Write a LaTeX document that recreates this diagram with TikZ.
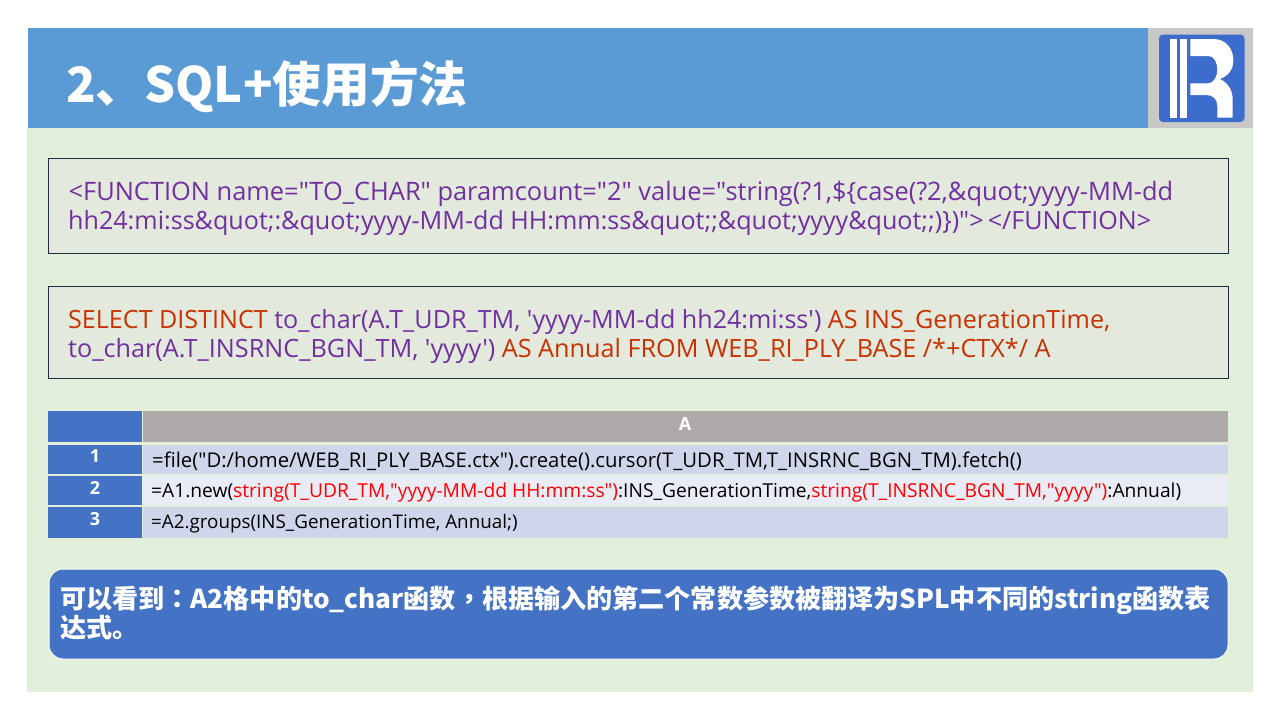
\documentclass[tikz,border=0pt]{standalone}
\usepackage{fontspec}
\newfontfamily\lat{Open Sans}
\newfontfamily\cjk{Noto Sans CJK SC}
\newfontfamily\cjktc{Noto Sans CJK TC}
\definecolor{bannerblue}{HTML}{5B9BD5}
\definecolor{logogrey}{HTML}{C8C8C8}
\definecolor{logoblue}{HTML}{3C6DCC}
\definecolor{panelgreen}{HTML}{E2EFDA}
\definecolor{codefill}{HTML}{E3E9DD}
\definecolor{codeline}{HTML}{1F2A44}
\definecolor{splpurple}{HTML}{7030A0}
\definecolor{sqlred}{HTML}{C83200}
\definecolor{cellblue}{HTML}{4472C4}
\definecolor{cellgrey}{HTML}{AEAAAA}
\definecolor{rowdark}{HTML}{CFD5EA}
\definecolor{rowlight}{HTML}{E9EBF5}
\begin{document}
\begin{tikzpicture}[x=1pt,y=-1pt]
\tikzset{block/.style n args={5}{anchor=north west,inner sep=0pt,outer sep=0pt,fill=#5,
  minimum width=(#3-#1)*1pt,minimum height=(#4-#2)*1pt},
  code box/.style={draw=codeline,line width=0.8pt,fill=codefill,anchor=north west,inner sep=0pt,
  minimum width=1180pt,minimum height=#1},
  code text/.style={anchor=west,inner sep=0pt,font=\lat\fontsize{#1}{29pt}\selectfont,text=splpurple,
  align=left},
  row num/.style={anchor=center,inner sep=0pt,text=white,font=\lat\bfseries\fontsize{18pt}{20pt}\selectfont},
  row text/.style={anchor=west,inner sep=0pt,text=black,font=\lat\fontsize{#1}{22pt}\selectfont}}

\useasboundingbox (0,0) rectangle (1280,720);
\fill[white] (0,0) rectangle (1280,720);
\node[block={27}{128}{1253}{692}{panelgreen}] (panel) at (27,128) {};
\node[block={28}{28}{1148}{128}{bannerblue}] (banner) at (28,28) {};
\node[block={1148}{28}{1253}{128}{logogrey}] (logobox) at (1148,28) {};
\node[anchor=west,inner sep=0pt,text=white,font=\cjk\bfseries\fontsize{48.7pt}{52pt}\selectfont] (title) at (66,86) {2、SQL+使用方法};

\fill[logoblue,rounded corners=4pt] (1159,34.5) rectangle (1244.5,122);
\fill[white] (1170,39) rectangle (1177,118);
\fill[white] (1180,39) rectangle (1187,118);
\fill[white] (1190.3,39) -- (1213.3,39) .. controls (1227,39) and (1233.3,50) .. (1233.3,60)
  .. controls (1233.3,70) and (1228,76) .. (1220,79) .. controls (1228,83) and (1232.7,90) .. (1232.7,100)
  -- (1232.7,117.7) -- (1217.3,117.7) -- (1217.3,106) .. controls (1217.3,99) and (1213,95) .. (1206,95)
  -- (1190.3,95) -- (1190.3,83.3) -- (1208.3,83.3) .. controls (1214,83.3) and (1217.3,76) .. (1217.3,70)
  .. controls (1217.3,62) and (1214,56) .. (1208.3,56) -- (1190.3,56) -- cycle;

\node[code box=95pt] (funcbox) at (48,157.7) {};
\node[code text=25.4pt] (func1) at (68.5,194) {<FUNCTION name="TO\_CHAR" paramcount="2" value="string(?1,\$\{case(?2,\&quot;yyyy-MM-dd};
\node[code text=25.1pt] (func2) at (68,223) {hh24:mi:ss\&quot;:\&quot;yyyy-MM-dd HH:mm:ss\&quot;;\&quot;yyyy\&quot;;)\})">\,</FUNCTION>};

\node[code box=92pt] (sqlbox) at (48,286.3) {};
\node[code text=25.1pt] (sql1) at (68,322) {\textcolor{sqlred}{SELECT DISTINCT} to\_char(A.T\_UDR\_TM, 'yyyy-MM-dd hh24:mi:ss') \textcolor{sqlred}{AS INS\_GenerationTime,}};
\node[code text=25.2pt] (sql2) at (68,351) {to\_char(A.T\_INSRNC\_BGN\_TM, 'yyyy') \textcolor{sqlred}{AS Annual FROM WEB\_RI\_PLY\_BASE /*+CTX*/ A}};

\node[block={48}{411}{142}{442}{cellblue}] (corner) at (48,411) {};
\node[block={143}{411}{1228}{442}{cellgrey}] (colhead) at (143,411) {};
\node[row num] (cola) at (685,424) {A};
\node[block={48}{445}{142}{474}{cellblue}] (num1) at (48,445) {};
\node[block={48}{476}{142}{505}{cellblue}] (num2) at (48,476) {};
\node[block={48}{507}{142}{538}{cellblue}] (num3) at (48,507) {};
\node[block={143}{445}{1228}{474}{rowdark}] (cell1) at (143,445) {};
\node[block={143}{476}{1228}{505}{rowlight}] (cell2) at (143,476) {};
\node[block={143}{507}{1228}{538}{rowdark}] (cell3) at (143,507) {};
\node[row num] (lab1) at (95,456) {1};
\node[row num] (lab2) at (95,488) {2};
\node[row num] (lab3) at (95,519) {3};
\node[row text=20.3pt] (text1) at (152,461) {=file("D:/home/WEB\_RI\_PLY\_BASE.ctx").create().cursor(T\_UDR\_TM,T\_INSRNC\_BGN\_TM).fetch()};
\node[row text=19.2pt] (text2) at (151,493) {=A1.new(\textcolor{red}{string(T\_UDR\_TM,"yyyy-MM-dd HH:mm:ss")}:INS\_GenerationTime,\textcolor{red}{string(T\_INSRNC\_BGN\_TM,"yyyy")}:Annual)};
\node[row text=18.8pt] (text3) at (151,524) {=A2.groups(INS\_GenerationTime, Annual;)};

\node[draw=white,line width=1pt,fill=cellblue,rounded corners=14pt,anchor=north west,inner sep=0pt,
  minimum width=1179pt,minimum height=90pt] (notebox) at (48.5,568.5) {};
\node[anchor=north west,inner sep=0pt,text=white,align=left,font=\cjk\bfseries\fontsize{26.1pt}{29.5pt}\selectfont] (note) at (60,585.5)
  {可以看到{\cjktc\bfseries ：}A2格中的to\_char函数{\cjktc\bfseries ，}根据输入的第二个常数参数被翻译为SPL中不同的string函数表\\达式。};
\end{tikzpicture}
\end{document}
